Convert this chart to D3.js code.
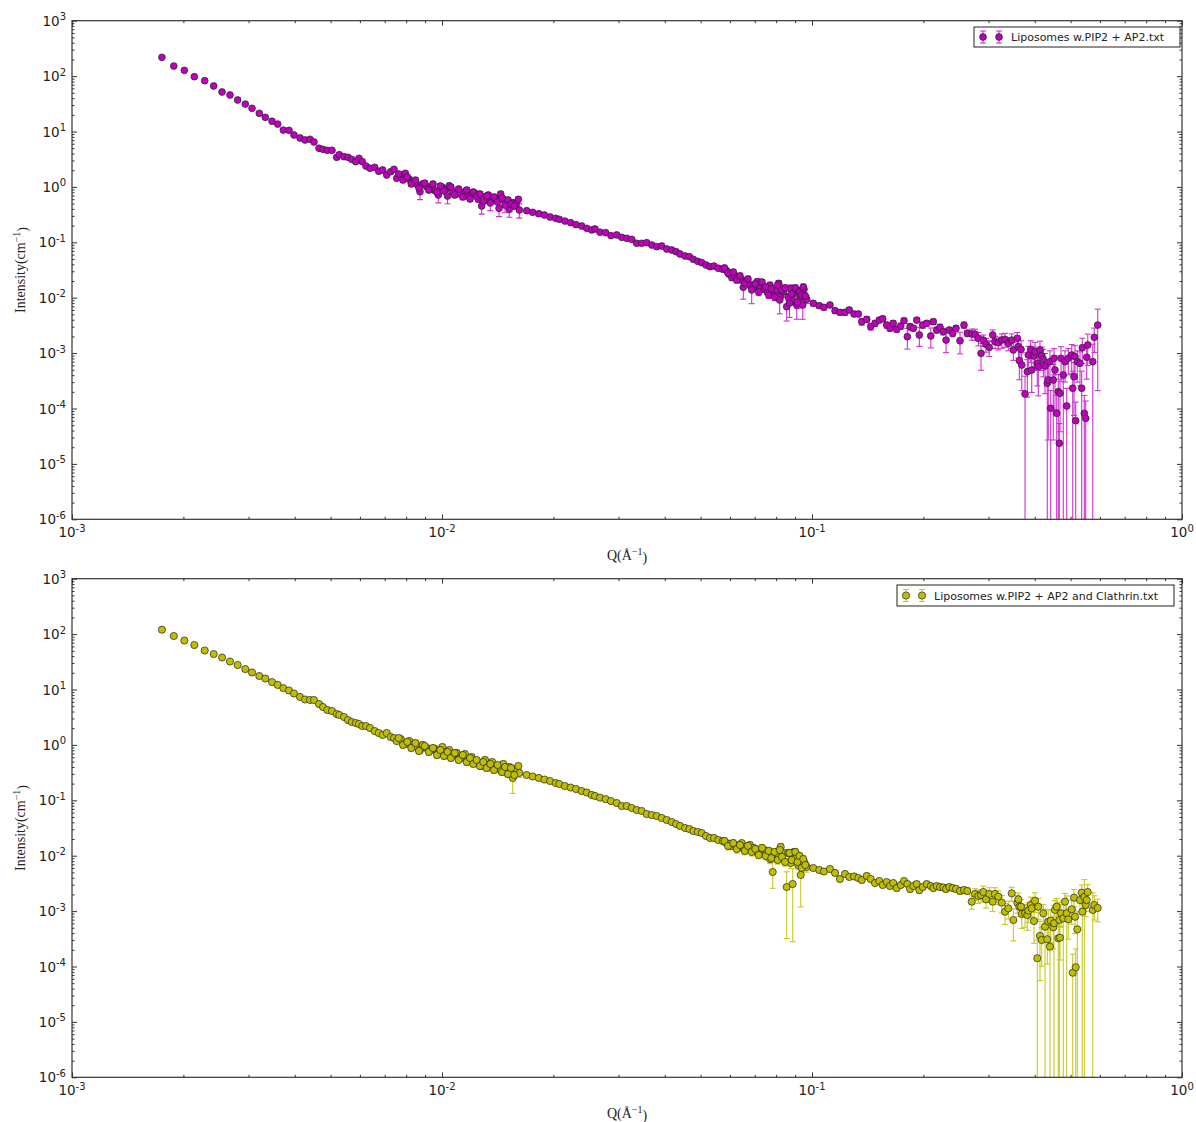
<!DOCTYPE html>
<html>
<head>
<meta charset="utf-8">
<script src="https://cdn.jsdelivr.net/npm/d3@7"></script>
<style>
body { margin: 0; background: #fff; }
text { font-family: "DejaVu Sans", sans-serif; fill: #222; }
</style>
</head>
<body>
<svg id="chart" width="1196" height="1122"></svg>
<script>
// scattering vector Q (1/A), shared by both measurements
var qValues = [
  1.75e-3, 1.884e-3, 2.012e-3, 2.141e-3, 2.284e-3, 2.415e-3, 2.544e-3, 2.673e-3, 2.804e-3, 2.940e-3,
  3.066e-3, 3.208e-3, 3.330e-3, 3.472e-3, 3.597e-3, 3.725e-3, 3.859e-3, 3.981e-3, 4.133e-3, 4.264e-3,
  4.399e-3, 4.508e-3, 4.652e-3, 4.769e-3, 4.898e-3, 5.043e-3, 5.193e-3, 5.277e-3, 5.434e-3, 5.571e-3,
  5.701e-3, 5.845e-3, 5.966e-3, 6.090e-3, 6.231e-3, 6.388e-3, 6.578e-3, 6.744e-3, 6.914e-3, 7.088e-3,
  7.267e-3, 7.418e-3, 7.543e-3, 7.733e-3, 7.957e-3, 8.157e-3, 8.363e-3, 8.596e-3, 8.720e-3, 8.868e-3,
  9.091e-3, 9.339e-3, 9.592e-3, 9.772e-3, 1.002e-2, 1.023e-2, 1.046e-2, 1.069e-2, 1.096e-2, 1.123e-2,
  1.154e-2, 1.178e-2, 1.203e-2, 1.228e-2, 1.254e-2, 1.280e-2, 1.307e-2, 1.334e-2, 1.367e-2, 1.399e-2,
  1.426e-2, 1.441e-2, 1.465e-2, 1.496e-2, 1.520e-2, 1.553e-2, 1.585e-2, 1.608e-2, 1.618e-2,
  1.694e-2, 1.758e-2, 1.826e-2, 1.891e-2, 1.959e-2, 2.029e-2, 2.075e-2, 2.149e-2, 2.227e-2, 2.302e-2,
  2.385e-2, 2.461e-2, 2.538e-2, 2.591e-2, 2.673e-2, 2.769e-2, 2.862e-2, 2.966e-2, 3.060e-2, 3.157e-2,
  3.257e-2, 3.360e-2, 3.466e-2, 3.575e-2, 3.689e-2, 3.805e-2, 3.925e-2, 4.049e-2, 4.177e-2, 4.291e-2,
  4.399e-2, 4.539e-2, 4.662e-2, 4.779e-2, 4.911e-2, 5.035e-2, 5.171e-2, 5.301e-2, 5.434e-2, 5.582e-2,
  5.736e-2, 5.882e-2, 5.978e-2, 6.067e-2, 6.193e-2, 6.321e-2, 6.457e-2, 6.521e-2, 6.632e-2, 6.799e-2,
  6.941e-2, 7.116e-2, 7.237e-2, 7.419e-2, 7.572e-2, 7.701e-2, 7.831e-2, 8.028e-2, 8.128e-2, 8.229e-2,
  8.363e-2, 8.542e-2, 8.627e-2, 8.757e-2, 8.867e-2, 8.940e-2, 9.091e-2, 9.183e-2, 9.322e-2, 9.439e-2,
  9.514e-2, 9.676e-2,
  0.1008, 0.1046, 0.1077, 0.1118, 0.1154, 0.1190, 0.1228, 0.1261, 0.1299, 0.1334,
  0.1363, 0.1406, 0.1441, 0.1480, 0.1520, 0.1553, 0.1592, 0.1625, 0.1658, 0.1694,
  0.1737, 0.1773, 0.1810, 0.1841, 0.1879, 0.1919, 0.1950, 0.1992, 0.2042, 0.2094,
  0.2128, 0.2173, 0.2218, 0.2264, 0.2303, 0.2350, 0.2400, 0.2450, 0.2512, 0.2575,
  0.2629,
  0.2702, 0.2758, 0.2816, 0.2863, 0.2904, 0.2953, 0.3014, 0.3079, 0.3123, 0.3188,
  0.3257, 0.3324, 0.3393, 0.3466, 0.3501, 0.3589, 0.3612, 0.3634, 0.3673, 0.3689,
  0.3765, 0.3819, 0.3843, 0.3900, 0.3925, 0.3981, 0.4006, 0.4063, 0.4089, 0.4132,
  0.4176, 0.4218, 0.4263, 0.4324, 0.4351, 0.4397, 0.4417, 0.4489, 0.4509, 0.4537,
  0.4585, 0.4631, 0.4660, 0.4680, 0.4710, 0.4777, 0.4828, 0.4880, 0.4928, 0.5034,
  0.5066, 0.5107, 0.5139, 0.5161, 0.5212, 0.5301, 0.5357, 0.5377, 0.5445, 0.5493,
  0.5527, 0.5562, 0.5738, 0.5794, 0.5918,
  // overlapping readings of the neighbouring detector ranges
  7.638e-3, 7.845e-3, 8.056e-3, 8.260e-3, 8.478e-3, 8.666e-3, 8.980e-3, 9.213e-3, 9.456e-3, 9.694e-3,
  9.895e-3, 1.0125e-2, 1.035e-2, 1.057e-2, 1.082e-2, 1.109e-2, 1.138e-2, 1.166e-2, 1.191e-2, 1.215e-2,
  1.241e-2, 1.267e-2, 1.293e-2, 1.321e-2, 1.351e-2, 1.382e-2, 1.413e-2, 1.453e-2, 1.480e-2, 1.508e-2,
  1.537e-2, 1.568e-2,
  5.800e-2, 5.929e-2, 6.128e-2, 6.260e-2, 6.390e-2, 6.580e-2, 6.714e-2, 6.871e-2, 7.028e-2, 7.177e-2,
  7.327e-2, 7.498e-2, 7.638e-2, 7.762e-2, 7.928e-2, 8.078e-2, 8.179e-2, 8.297e-2, 8.453e-2, 8.694e-2,
  8.813e-2, 9.014e-2, 9.137e-2, 9.251e-2, 9.379e-2, 9.473e-2, 9.592e-2
];

// Liposomes w.PIP2 + AP2
var ap2Intensity = [
  218, 152, 127, 97.5, 82.6, 66.3, 51.6, 45.6, 37.0, 31.3,
  26.2, 21.3, 18.0, 15.3, 13.6, 10.6, 10.5, 8.65, 7.64, 7.03,
  7.23, 6.46, 4.98, 4.77, 4.58, 4.58, 3.42, 3.81, 3.51, 3.42,
  3.15, 2.85, 3.28, 2.85, 2.38, 2.17, 2.26, 1.91, 2.02, 1.64,
  1.88, 2.08, 1.43, 1.53, 1.76, 1.37, 1.24, 1.08, 0.819, 1.13,
  1.01, 1.01, 0.853, 0.714, 0.984, 0.906, 1.05, 0.819, 0.745, 0.766,
  0.819, 0.685, 0.745, 0.766, 0.597, 0.452, 0.564, 0.714, 0.581, 0.612,
  0.411, 0.745, 0.597, 0.541, 0.394, 0.519, 0.506, 0.597, 0.383,
  0.372, 0.348, 0.328, 0.311, 0.286, 0.271, 0.260, 0.242, 0.226, 0.208,
  0.197, 0.179, 0.167, 0.174, 0.152, 0.149, 0.132, 0.136, 0.123, 0.118,
  0.113, 0.0959, 0.0959, 0.0984, 0.0893, 0.0834, 0.0857, 0.0757, 0.0726, 0.0676,
  0.0615, 0.0566, 0.0550, 0.0493, 0.0454, 0.0429, 0.0389, 0.0363, 0.0373, 0.0340,
  0.0326, 0.0307, 0.0268, 0.0233, 0.0247, 0.0224, 0.0209, 0.0154, 0.0195, 0.0169,
  0.0158, 0.0195, 0.0148, 0.0142, 0.0128, 0.0169, 0.0120, 0.0138, 0.0182, 0.0107,
  0.0128, 0.00689, 0.0104, 0.0148, 0.00883, 0.0120, 0.00738, 0.0134, 0.0102, 0.00738,
  0.0142, 0.00935,
  0.00792, 0.00718, 0.00671, 0.00738, 0.00582, 0.00545, 0.00545, 0.00600, 0.00508, 0.00508,
  0.00369, 0.00407, 0.00300, 0.00345, 0.00395, 0.00418, 0.00321, 0.00281, 0.00345, 0.00269,
  0.00308, 0.00385, 0.00198, 0.00300, 0.00281, 0.00395, 0.00212, 0.00321, 0.00345, 0.00204,
  0.00369, 0.00261, 0.00292, 0.00243, 0.00172, 0.00261, 0.00228, 0.00281, 0.00167, 0.00321,
  0.00228,
  0.00221, 0.00220, 0.00185, 0.00099, 0.00172, 0.00144, 0.00127, 0.00212, 0.00161, 0.00154,
  0.00172, 0.00177, 0.00150, 0.00172, 0.00114, 0.00185, 0.00131, 0.00073, 0.00117, 0.00061,
  0.000183, 0.000461, 0.000925, 0.00117, 0.000495, 0.000887, 0.00106, 0.000655, 0.000569, 0.00114,
  0.000887, 0.000773, 0.000585, 0.000285, 0.000327, 0.00070, 0.000101, 0.000327, 0.000805, 0.000495,
  0.0000818, 0.000201, 0.0000236, 0.000188, 0.000805, 0.000403, 0.00070, 0.000111, 0.000805, 0.000925,
  0.000232, 0.000375, 0.000861, 0.0000603, 0.00070, 0.000655, 0.000232, 0.00125, 0.0000818, 0.0000665,
  0.000839, 0.00140, 0.00070, 0.00193, 0.00321,
  1.71, 1.33, 1.51, 1.13, 1.33, 0.955, 1.17, 0.879, 1.13, 0.809,
  1.04, 0.843, 0.685, 0.995, 0.714, 0.916, 0.658, 0.879, 0.605, 0.809,
  0.685, 0.745, 0.557, 0.685, 0.513, 0.658, 0.535, 0.631, 0.471, 0.581,
  0.491, 0.452,
  0.0344, 0.0279, 0.0291, 0.0209, 0.0247, 0.0184, 0.0218, 0.0138, 0.0177, 0.0127,
  0.0192, 0.0156, 0.0112, 0.0144, 0.0103, 0.0169, 0.0091, 0.0138, 0.0150, 0.0080,
  0.0117, 0.0150, 0.00836, 0.0127, 0.0112, 0.0156, 0.0107
];
var ap2Error = [
  0, 0, 0, 0, 0, 0, 0, 0, 0, 0,
  0, 0, 0, 0, 0, 0, 0, 0, 0, 0,
  0, 0, 0, 0, 0, 0, 0, 0, 0, 0,
  0, 0, 0, 0, 0, 0, 0, 0, 0, 0,
  0, 0, 0, 0, 0.15, 0.12, 0.11, 0.1, 0.23, 0.1,
  0.09, 0.09, 0.08, 0.2, 0.09, 0.08, 0.09, 0.08, 0.07, 0.07,
  0.08, 0.07, 0.07, 0.07, 0.06, 0.13, 0.06, 0.07, 0.06, 0.06,
  0.12, 0.07, 0.06, 0.06, 0.11, 0.06, 0.06, 0.06, 0.11,
  0, 0, 0, 0, 0, 0, 0, 0, 0, 0,
  0, 0, 0, 0, 0, 0, 0, 0, 0, 0,
  0, 0, 0, 0, 0, 0, 0, 0, 0, 0,
  0, 0, 0, 0, 0, 0, 0, 0, 0, 0,
  0, 0, 0.003, 0.003, 0.003, 0.003, 0.0025, 0.006, 0.0023, 0.002,
  0.002, 0.0023, 0.0018, 0.0017, 0.0015, 0.002, 0.0015, 0.0017, 0.0022, 0.0015,
  0.0015, 0.0031, 0.0015, 0.002, 0.0015, 0.0015, 0.0033, 0.002, 0.0015, 0.0033,
  0.002, 0.0015,
  0.0008, 0.0007, 0.0007, 0.0007, 0.0006, 0.0006, 0.0006, 0.0006, 0.0005, 0.0005,
  0.0005, 0.0005, 0.0004, 0.0004, 0.0004, 0.0004, 0.0004, 0.0003, 0.0004, 0.0003,
  0.0004, 0.0004, 0.0008, 0.0004, 0.0003, 0.0004, 0.0008, 0.0004, 0.0004, 0.0008,
  0.0004, 0.0003, 0.0004, 0.0003, 0.0007, 0.0003, 0.0003, 0.0003, 0.0007, 0.0004,
  0.0003,
  0.0005, 0.0005, 0.0005, 0.0005, 0.0004, 0.0004, 0.0004, 0.0005, 0.0004, 0.0004,
  0.0005, 0.0005, 0.0004, 0.0005, 0.0004, 0.0005, 0.0005, 0.0004, 0.0005, 0.0004,
  0.0002, 0.0003, 0.0004, 0.0005, 0.0003, 0.0004, 0.0005, 0.0004, 0.0004, 0.0005,
  0.0004, 0.0004, 0.0004, 0.0003, 0.0003, 0.0004, 0.00011, 0.0003, 0.0004, 0.0004,
  0.00009, 0.00021, 0.00003, 0.00015, 0.0005, 0.00042, 0.0004, 0.00012, 0.0004, 0.0005,
  0.00024, 0.0003, 0.0005, 0.00007, 0.0004, 0.0004, 0.00024, 0.0006, 0.00009, 0.00007,
  0.0005, 0.0008, 0.00075, 0.0009, 0.003,
  0.17, 0.13, 0.15, 0.11, 0.13, 0.1, 0.12, 0.09, 0.11, 0.08,
  0.1, 0.08, 0.19, 0.1, 0.07, 0.09, 0.07, 0.09, 0.06, 0.08,
  0.07, 0.07, 0.06, 0.07, 0.14, 0.07, 0.05, 0.06, 0.13, 0.06,
  0.05, 0.05,
  0.004, 0.003, 0.003, 0.0025, 0.003, 0.0022, 0.0025, 0.006, 0.002, 0.0018,
  0.002, 0.002, 0.0015, 0.002, 0.0015, 0.002, 0.004, 0.002, 0.002, 0.0036,
  0.0015, 0.002, 0.002, 0.0015, 0.0015, 0.002, 0.0015
];

// Liposomes w.PIP2 + AP2 and Clathrin
var clathrinIntensity = [
  120, 92.5, 76.6, 63.5, 50.6, 43.7, 37.8, 32.0, 27.7, 23.4,
  20.3, 17.5, 15.8, 13.6, 12.1, 10.6, 9.6, 8.47, 7.33, 6.6,
  6.46, 6.46, 5.47, 4.83, 4.27, 4.09, 3.61, 3.47, 3.19, 2.81,
  2.59, 2.48, 2.38, 2.19, 2.19, 2.02, 1.78, 1.64, 1.51, 1.64,
  1.39, 1.33, 1.17, 1.28, 1.04, 1.17, 1.0, 0.916, 0.809, 1.0,
  0.879, 0.809, 0.843, 0.714, 0.916, 0.745, 0.809, 0.657, 0.714, 0.581,
  0.685, 0.534, 0.605, 0.512, 0.471, 0.416, 0.534, 0.434, 0.491, 0.383,
  0.416, 0.352, 0.452, 0.324, 0.399, 0.253, 0.367, 0.416, 0.311,
  0.286, 0.269, 0.253, 0.237, 0.223, 0.205, 0.197, 0.181, 0.170, 0.160,
  0.147, 0.138, 0.125, 0.120, 0.112, 0.105, 0.097, 0.0894, 0.0789, 0.0789,
  0.0726, 0.0668, 0.0641, 0.0566, 0.0543, 0.0521, 0.0480, 0.0441, 0.0406, 0.0373,
  0.0344, 0.0316, 0.0303, 0.0279, 0.0268, 0.0257, 0.0227, 0.0209, 0.0209, 0.0192,
  0.0184, 0.0169, 0.0163, 0.0150, 0.0156, 0.0144, 0.0169, 0.0138, 0.0144, 0.0156,
  0.0138, 0.0117, 0.0127, 0.0127, 0.0117, 0.0087, 0.00508, 0.0103, 0.0095, 0.0144,
  0.0112, 0.00272, 0.0112, 0.00738, 0.00308, 0.0117, 0.0095, 0.0068, 0.00449, 0.00652,
  0.00769, 0.00625,
  0.0060, 0.00552, 0.00519, 0.00575, 0.00488, 0.0038, 0.00468, 0.00413, 0.00422, 0.00396,
  0.00364, 0.00431, 0.0038, 0.00321, 0.00349, 0.00296, 0.00335, 0.00284, 0.00321, 0.00261,
  0.00296, 0.00349, 0.00308, 0.00251, 0.00284, 0.00308, 0.0024, 0.00272, 0.00308, 0.00284,
  0.00261, 0.00284, 0.00272, 0.00267, 0.00251, 0.00272, 0.00261, 0.00251, 0.00231, 0.0024,
  0.00231,
  0.00148, 0.00204, 0.00187, 0.00195, 0.00221, 0.00163, 0.00204, 0.00148, 0.00204, 0.00182,
  0.00142, 0.000975, 0.00112, 0.00209, 0.00069, 0.00142, 0.00163, 0.0012, 0.0012, 0.000887,
  0.000912, 0.000851, 0.00102, 0.00129, 0.00112, 0.000662, 0.00154, 0.000141, 0.0012, 0.000356,
  0.000301, 0.000912, 0.000523, 0.00031, 0.000644, 0.000228, 0.000671, 0.00051, 0.000603, 0.00105,
  0.0012, 0.000323, 0.00069, 0.000331, 0.000912, 0.000741, 0.00148, 0.000912, 0.000711, 0.00108,
  0.0000773, 0.00175, 0.000792, 0.0000968, 0.000469, 0.00158, 0.00215, 0.000975, 0.0018, 0.00129,
  0.00158, 0.00221, 0.00105, 0.00129, 0.00114,
  1.33, 1.0, 1.13, 0.879, 1.08, 0.776, 0.955, 0.745, 0.879, 0.657,
  0.809, 0.631, 0.745, 0.581, 0.714, 0.534, 0.657, 0.491, 0.581, 0.452,
  0.534, 0.416, 0.491, 0.383, 0.452, 0.352, 0.434, 0.324, 0.399, 0.298,
  0.383, 0.286,
  0.0184, 0.0150, 0.0169, 0.0132, 0.0156, 0.0122, 0.0150, 0.0117, 0.0132, 0.0103,
  0.0138, 0.0099, 0.0122, 0.00908, 0.0117, 0.00836, 0.0127, 0.0095, 0.00769, 0.0112,
  0.00836, 0.0117, 0.00769, 0.0099, 0.0060, 0.0087, 0.0068
];
var clathrinError = [
  0, 0, 0, 0, 0, 0, 0, 0, 0, 0,
  0, 0, 0, 0, 0, 0, 0, 0, 0, 0,
  0, 0, 0, 0, 0, 0, 0, 0, 0, 0,
  0, 0, 0, 0, 0, 0, 0, 0, 0, 0,
  0, 0, 0, 0, 0.12, 0.14, 0.12, 0.11, 0.1, 0.12,
  0.1, 0.1, 0.1, 0.09, 0.11, 0.09, 0.1, 0.08, 0.09, 0.07,
  0.08, 0.07, 0.07, 0.06, 0.06, 0.05, 0.07, 0.05, 0.06, 0.05,
  0.05, 0.05, 0.06, 0.05, 0.05, 0.12, 0.05, 0.05, 0.05,
  0, 0, 0, 0, 0, 0, 0, 0, 0, 0,
  0, 0, 0, 0, 0, 0, 0, 0, 0, 0,
  0, 0, 0, 0, 0, 0, 0, 0, 0, 0,
  0, 0, 0, 0, 0, 0, 0, 0, 0, 0,
  0, 0, 0.002, 0.002, 0.002, 0.002, 0.002, 0.002, 0.002, 0.002,
  0.002, 0.0015, 0.0015, 0.0015, 0.0015, 0.0015, 0.0025, 0.0015, 0.0015, 0.002,
  0.0015, 0.0024, 0.0015, 0.0015, 0.0028, 0.0015, 0.0015, 0.0012, 0.0033, 0.0012,
  0.0012, 0.0012,
  0.0006, 0.0006, 0.0005, 0.0006, 0.0005, 0.0004, 0.0005, 0.0004, 0.0004, 0.0004,
  0.0004, 0.0004, 0.0004, 0.0003, 0.0004, 0.0003, 0.0003, 0.0003, 0.0003, 0.0003,
  0.0003, 0.0004, 0.0003, 0.0003, 0.0003, 0.0003, 0.0003, 0.0003, 0.0003, 0.0003,
  0.0003, 0.0003, 0.0003, 0.0003, 0.0003, 0.0003, 0.0003, 0.0003, 0.0003, 0.0003,
  0.0003,
  0.0004, 0.0005, 0.0005, 0.0005, 0.0006, 0.0005, 0.0006, 0.0005, 0.0006, 0.0005,
  0.0005, 0.0004, 0.0004, 0.0006, 0.0004, 0.0005, 0.0005, 0.0004, 0.0004, 0.0004,
  0.0004, 0.0004, 0.0004, 0.0005, 0.0004, 0.0004, 0.0006, 0.00016, 0.0005, 0.0003,
  0.0002, 0.0004, 0.00056, 0.0002, 0.0004, 0.00025, 0.0004, 0.0003, 0.00065, 0.0005,
  0.0005, 0.00035, 0.00075, 0.0002, 0.0004, 0.0008, 0.0006, 0.00097, 0.0004, 0.0005,
  0.00009, 0.0007, 0.0004, 0.00011, 0.0005, 0.0006, 0.0008, 0.00105, 0.0019, 0.0005,
  0.0006, 0.0008, 0.0011, 0.0006, 0.0005,
  0.16, 0.12, 0.14, 0.11, 0.13, 0.09, 0.11, 0.09, 0.11, 0.08,
  0.1, 0.08, 0.09, 0.07, 0.09, 0.06, 0.08, 0.06, 0.07, 0.05,
  0.06, 0.05, 0.06, 0.05, 0.05, 0.04, 0.05, 0.04, 0.05, 0.04,
  0.05, 0.04,
  0.0028, 0.0023, 0.0025, 0.002, 0.0023, 0.0018, 0.0023, 0.0018, 0.002, 0.0015,
  0.002, 0.0015, 0.0018, 0.0014, 0.0018, 0.0013, 0.0019, 0.0014, 0.0012, 0.0017,
  0.0013, 0.0018, 0.0012, 0.0015, 0.001, 0.0013, 0.001
];

var seriesNames = ["Liposomes w.PIP2 + AP2.txt", "Liposomes w.PIP2 + AP2 and Clathrin.txt"];
var xTickExponents = [-3, -2, -1, 0];
var yTickExponents = [-6, -5, -4, -3, -2, -1, 0, 1, 2, 3];

var svg = d3.select("#chart");
var plotLeft = 72, plotRight = 1182;

var panels = [
  { top: 20.7, bottom: 519.3, intensity: ap2Intensity, error: ap2Error, name: seriesNames[0],
    fill: "#bf00bf", bar: "#cc33cc", r: 3.4, legend: { x: 974, y: 27, w: 206, h: 20 } },
  { top: 578.7, bottom: 1077.3, intensity: clathrinIntensity, error: clathrinError, name: seriesNames[1],
    fill: "#bfbf00", bar: "#c8c828", r: 3.6, legend: { x: 897, y: 585, w: 277, h: 21 } }
];

function powerText(sel, exp) {
  sel.append("tspan").text("10");
  sel.append("tspan")
    .attr("dy", "-0.55em")
    .attr("font-size", "10px")
    .text(exp < 0 ? "-" + (-exp) : exp);
}

function minorTicks(exps) {
  var out = [];
  for (var i = 0; i < exps.length - 1; i++)
    for (var m = 2; m < 10; m++) out.push(m * Math.pow(10, exps[i]));
  return out;
}

panels.forEach(function(p, k) {
  var x = d3.scaleLog().domain([1e-3, 1]).range([plotLeft, plotRight]);
  var y = d3.scaleLog().domain([1e-6, 1e3]).range([p.bottom, p.top]);
  var g = svg.append("g");

  g.append("clipPath").attr("id", "clip" + k)
    .append("rect")
    .attr("x", plotLeft).attr("y", p.top)
    .attr("width", plotRight - plotLeft).attr("height", p.bottom - p.top);

  var data = qValues.map(function(q, i) {
    return { q: q, v: p.intensity[i], e: p.error[i] };
  }).filter(function(d) { return d.v > 0; });

  var plot = g.append("g").attr("clip-path", "url(#clip" + k + ")");

  // error bars first, markers drawn over them
  var bars = plot.append("g")
    .attr("stroke", p.bar)
    .attr("stroke-width", 1.1)
    .selectAll("g")
    .data(data.filter(function(d) { return d.e > 0; }))
    .enter().append("g");

  bars.append("line")
    .attr("x1", function(d) { return x(d.q); })
    .attr("x2", function(d) { return x(d.q); })
    .attr("y1", function(d) { return y(d.v + d.e); })
    .attr("y2", function(d) { return d.v - d.e > 0 ? y(d.v - d.e) : p.bottom + 5; });

  bars.append("line")
    .attr("x1", function(d) { return x(d.q) - 3; })
    .attr("x2", function(d) { return x(d.q) + 3; })
    .attr("y1", function(d) { return y(d.v + d.e); })
    .attr("y2", function(d) { return y(d.v + d.e); });

  bars.filter(function(d) { return d.v - d.e > 1e-6; })
    .append("line")
    .attr("x1", function(d) { return x(d.q) - 3; })
    .attr("x2", function(d) { return x(d.q) + 3; })
    .attr("y1", function(d) { return y(d.v - d.e); })
    .attr("y2", function(d) { return y(d.v - d.e); });

  plot.append("g").selectAll("circle")
    .data(data)
    .enter().append("circle")
    .attr("cx", function(d) { return x(d.q); })
    .attr("cy", function(d) { return y(d.v); })
    .attr("r", p.r)
    .attr("fill", p.fill)
    .attr("stroke", "#222")
    .attr("stroke-width", 0.7);

  // ticks pointing inward on all four sides
  var xMajor = xTickExponents.map(function(e) { return Math.pow(10, e); });
  var yMajor = yTickExponents.map(function(e) { return Math.pow(10, e); });
  var xMinor = minorTicks(xTickExponents);
  var yMinor = minorTicks(yTickExponents);

  function tickAxis(axis, values, size, transform) {
    var a = g.append("g")
      .attr("transform", transform)
      .call(axis.tickValues(values).tickSize(size).tickSizeOuter(0).tickFormat(""));
    a.select(".domain").remove();
    a.selectAll("line").attr("stroke", "#333").attr("stroke-width", 1);
  }
  tickAxis(d3.axisBottom(x), xMajor, -5, "translate(0," + p.bottom + ")");
  tickAxis(d3.axisBottom(x), xMinor, -2.5, "translate(0," + p.bottom + ")");
  tickAxis(d3.axisTop(x), xMajor, -5, "translate(0," + p.top + ")");
  tickAxis(d3.axisTop(x), xMinor, -2.5, "translate(0," + p.top + ")");
  tickAxis(d3.axisLeft(y), yMajor, -5, "translate(" + plotLeft + ",0)");
  tickAxis(d3.axisLeft(y), yMinor, -2.5, "translate(" + plotLeft + ",0)");
  tickAxis(d3.axisRight(y), yMajor, -5, "translate(" + plotRight + ",0)");
  tickAxis(d3.axisRight(y), yMinor, -2.5, "translate(" + plotRight + ",0)");

  g.append("rect")
    .attr("x", plotLeft).attr("y", p.top)
    .attr("width", plotRight - plotLeft).attr("height", p.bottom - p.top)
    .attr("fill", "none").attr("stroke", "#333").attr("stroke-width", 1.2);

  // tick labels
  g.selectAll(".ylab").data(yTickExponents).enter().append("text")
    .attr("class", "ylab")
    .attr("x", plotLeft - 6)
    .attr("y", function(e) { return y(Math.pow(10, e)) + 5; })
    .attr("text-anchor", "end")
    .attr("font-size", "13.5px")
    .each(function(e) { powerText(d3.select(this), e); });

  g.selectAll(".xlab").data(xTickExponents).enter().append("text")
    .attr("class", "xlab")
    .attr("x", function(e) { return x(Math.pow(10, e)); })
    .attr("y", p.bottom + 18)
    .attr("text-anchor", "middle")
    .attr("font-size", "13.5px")
    .each(function(e) { powerText(d3.select(this), e); });

  // axis titles
  var xt = g.append("text")
    .attr("x", (plotLeft + plotRight) / 2)
    .attr("y", p.bottom + 41)
    .attr("text-anchor", "middle")
    .style("font-family", "'Liberation Serif', 'DejaVu Serif', serif")
    .attr("font-size", "14px");
  xt.append("tspan").text("Q(Å");
  xt.append("tspan").attr("dy", "-0.5em").attr("font-size", "10px").text("−1");
  xt.append("tspan").attr("dy", "0.5em").text(")");

  var yt = g.append("text")
    .attr("transform", "translate(25," + ((p.top + p.bottom) / 2) + ") rotate(-90)")
    .attr("text-anchor", "middle")
    .style("font-family", "'Liberation Serif', 'DejaVu Serif', serif")
    .attr("font-size", "14px");
  yt.append("tspan").text("Intensity(cm");
  yt.append("tspan").attr("dy", "-0.5em").attr("font-size", "10px").text("−1");
  yt.append("tspan").attr("dy", "0.5em").text(")");

  // legend
  var L = p.legend;
  var lg = g.append("g");
  lg.append("rect")
    .attr("x", L.x).attr("y", L.y).attr("width", L.w).attr("height", L.h)
    .attr("fill", "#fff").attr("stroke", "#222").attr("stroke-width", 1);
  [9, 25].forEach(function(dx) {
    var cx = L.x + dx, cy = L.y + L.h / 2;
    lg.append("line").attr("x1", cx).attr("x2", cx).attr("y1", cy - 6).attr("y2", cy + 6)
      .attr("stroke", p.bar).attr("stroke-width", 1.1);
    [cy - 6, cy + 6].forEach(function(yy) {
      lg.append("line").attr("x1", cx - 3).attr("x2", cx + 3).attr("y1", yy).attr("y2", yy)
        .attr("stroke", p.bar).attr("stroke-width", 1.1);
    });
    lg.append("circle").attr("cx", cx).attr("cy", cy).attr("r", p.r)
      .attr("fill", p.fill).attr("stroke", "#222").attr("stroke-width", 0.7);
  });
  lg.append("text")
    .attr("x", L.x + 37).attr("y", L.y + L.h / 2 + 4)
    .attr("font-size", "11px")
    .text(p.name);
});
</script>
</body>
</html>
